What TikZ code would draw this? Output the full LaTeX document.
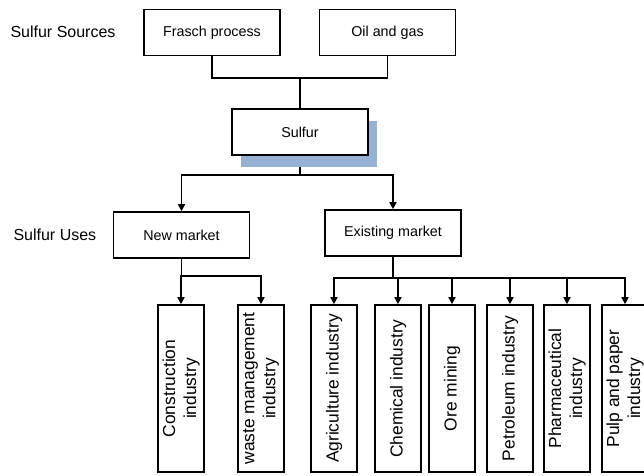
\documentclass[tikz,border=0pt]{standalone}
\usepackage{fontspec}
\setmainfont{Liberation Sans}
\usetikzlibrary{arrows.meta,shadows,backgrounds}

\definecolor{shadowblue}{RGB}{149,177,212}

\tikzset{
  box/.style={draw,line width=1.6pt,minimum width=136pt,minimum height=46pt,
    inner sep=2pt,font=\fontsize{14.3}{17}\selectfont},
  usebox/.style={draw,line width=1.6pt,rotate=90,minimum width=167pt,
    minimum height=46pt,inner sep=2pt,align=center,
    font=\fontsize{17.4}{21}\selectfont},
  label/.style={anchor=west,font=\fontsize{16}{19}\selectfont},
  link/.style={line width=1.5pt},
  arrow/.style={line width=1.5pt,-{Triangle[length=7pt,width=7pt]}}
}

\begin{document}
\begin{tikzpicture}[x=1pt,y=-1pt]
\useasboundingbox (0,0) rectangle (644,475);

% Quellen
\node[label] (sources) at (7,32) {Sulfur Sources};
\node[box] (frasch) at (212,32.5) {Frasch process};
\node[box] (oilgas) at (387.5,32.5) {Oil and gas};

% Schwefel mit Schatten
\node[box,fill=white,copy shadow={shadow xshift=9pt,shadow yshift=-11.5pt,
  fill=shadowblue,draw=none}] (sulfur) at (300,132) {Sulfur};

% Verwendungen
\node[label] (uses) at (10,235) {Sulfur Uses};
\node[box] (newmarket) at (181.5,235) {New market};
\node[box] (existing) at (393,233) {Existing market};

% Industrien
\node[usebox] (construction) at (181,388.5) {Construction\\industry};
\node[usebox] (waste) at (261,388.5) {waste management\\industry};
\node[usebox] (agriculture) at (334,388.5) {Agriculture industry};
\node[usebox] (chemical) at (398,388.5) {Chemical industry};
\node[usebox] (ore) at (452,388.5) {Ore mining};
\node[usebox] (petroleum) at (510,388.5) {Petroleum industry};
\node[usebox] (pharma) at (567,388.5) {Pharmaceutical\\industry};
\node[usebox] (pulp) at (625,388.5) {Pulp and paper\\industry};

% Verbindungen
\coordinate (srcjoin) at (300,78);
\coordinate (sulfjoin) at (300,175);
\coordinate (newjoin) at (181.5,276);
\coordinate (exjoin) at (393,278);

\begin{scope}[on background layer]
\draw[link] (frasch.south) |- (srcjoin) -| (oilgas.south);
\draw[link] (srcjoin) -- (sulfur.north);
\draw[link] (sulfur.south) -- (sulfjoin);
\end{scope}
\draw[arrow] (sulfjoin) -| (newmarket.north);
\draw[arrow] (sulfjoin) -| (existing.north);

\draw[link] (newmarket.south) -- (newjoin);
\foreach \n in {construction,waste}
  \draw[arrow] (newjoin) -| (\n.east);

\draw[link] (existing.south) -- (exjoin);
\foreach \n in {agriculture,chemical,ore,petroleum,pharma,pulp}
  \draw[arrow] (exjoin) -| (\n.east);

\end{tikzpicture}
\end{document}
